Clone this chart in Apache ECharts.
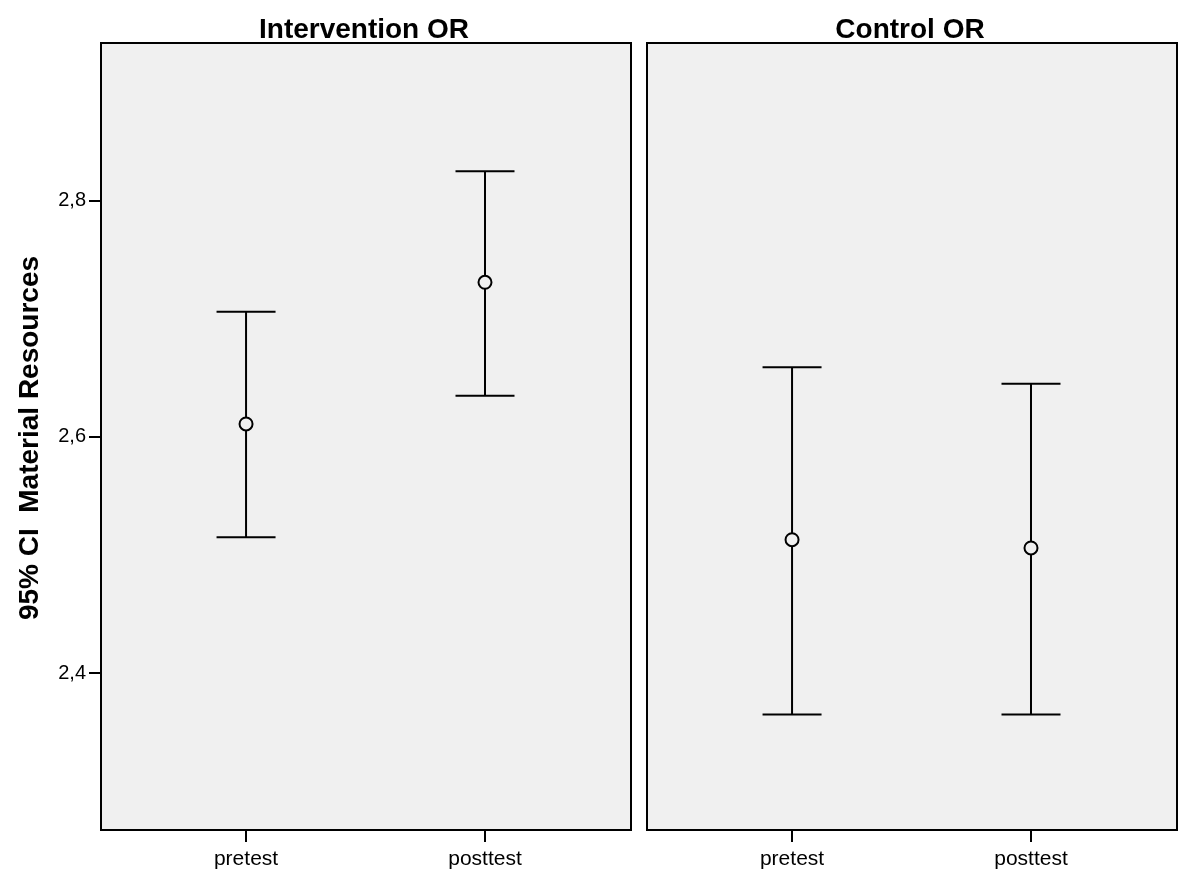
<!DOCTYPE html>
<html><head><meta charset="utf-8">
<script src="https://cdn.jsdelivr.net/npm/echarts@6/dist/echarts.min.js"></script>
<style>html,body{margin:0;padding:0;background:#fff}#c{width:1200px;height:888px}</style>
</head><body><div id="c"></div>
<script>
const panels = ['Intervention OR', 'Control OR'];
const categories = ['pretest', 'posttest'];
const yTicks = [2.4, 2.6, 2.8];
// per panel: mean, lower, upper for pretest, posttest
const interventionMean = [2.611, 2.731];
const interventionLower = [2.515, 2.635];
const interventionUpper = [2.706, 2.825];
const controlMean = [2.513, 2.506];
const controlLower = [2.365, 2.365];
const controlUpper = [2.659, 2.645];
const yAxisTitle = '95% CI  Material Resources';

const FONT = 'Liberation Sans, Arial, sans-serif';
const chart = echarts.init(document.getElementById('c'), null, {renderer: 'canvas'});

function buildData(mean, lower, upper) {
  return categories.map((c, i) => [i + 1, mean[i], lower[i], upper[i]]);
}
function renderItem(params, api) {
  const x = api.value(0);
  const m = api.coord([x, api.value(1)]);
  const lo = api.coord([x, api.value(2)]);
  const hi = api.coord([x, api.value(3)]);
  const cap = 29.5, r = 6.5;
  const st = {stroke: '#000', lineWidth: 2, fill: null};
  return {
    type: 'group',
    children: [
      {type: 'line', shape: {x1: hi[0], y1: hi[1], x2: lo[0], y2: lo[1]}, style: st},
      {type: 'line', shape: {x1: hi[0] - cap, y1: hi[1], x2: hi[0] + cap, y2: hi[1]}, style: st},
      {type: 'line', shape: {x1: lo[0] - cap, y1: lo[1], x2: lo[0] + cap, y2: lo[1]}, style: st},
      {type: 'circle', shape: {cx: m[0], cy: m[1], r: r}, style: {stroke: '#000', lineWidth: 2, fill: '#f0f0f0'}}
    ]
  };
}

const grids = [
  {left: 101, top: 43, width: 530, height: 787},
  {left: 647, top: 43, width: 530, height: 787}
];
const yMin = 2.2672, yMax = 2.9336;

const option = {
  backgroundColor: '#fff',
  animation: false,
  title: panels.map((p, i) => ({
    text: p,
    left: grids[i].left + grids[i].width / 2 - 7,
    top: 11,
    textAlign: 'center',
    textStyle: {fontFamily: FONT, fontSize: 28, fontWeight: 'bold', color: '#000'}
  })),
  graphic: [{
    type: 'text',
    x: 30, y: 438,
    rotation: Math.PI / 2,
    style: {text: yAxisTitle, font: 'bold 28px ' + FONT, fill: '#000', textAlign: 'center', textVerticalAlign: 'middle'}
  }],
  grid: grids.map(g => Object.assign({show: true, backgroundColor: '#f0f0f0', borderColor: '#000', borderWidth: 2}, g)),
  xAxis: grids.map((g, i) => ({
    type: 'value', gridIndex: i, min: 0.393, max: 2.611,
    splitLine: {show: false},
    axisLine: {show: true, onZero: false, lineStyle: {color: '#000', width: 2}},
    axisTick: {show: true, length: 12, lineStyle: {color: '#000', width: 2}, customValues: [1, 2]},
    axisLabel: {show: true, customValues: [1, 2], formatter: v => categories[Math.round(v) - 1] || '',
      fontFamily: FONT, fontSize: 21, color: '#000', margin: 19}
  })),
  yAxis: grids.map((g, i) => ({
    type: 'value', gridIndex: i, min: yMin, max: yMax,
    splitLine: {show: false},
    axisLine: {show: true, lineStyle: {color: '#000', width: 2}},
    axisTick: {show: i === 0, length: 12, lineStyle: {color: '#000', width: 2}, customValues: yTicks},
    axisLabel: {show: i === 0, customValues: yTicks, formatter: v => v.toFixed(1).replace('.', ','),
      fontFamily: FONT, fontSize: 20, color: '#000', margin: 15}
  })),
  series: [
    {type: 'custom', xAxisIndex: 0, yAxisIndex: 0, renderItem, data: buildData(interventionMean, interventionLower, interventionUpper), encode: {x: 0, y: [1, 2, 3]}},
    {type: 'custom', xAxisIndex: 1, yAxisIndex: 1, renderItem, data: buildData(controlMean, controlLower, controlUpper), encode: {x: 0, y: [1, 2, 3]}}
  ]
};
chart.setOption(option);
</script>
</body></html>
